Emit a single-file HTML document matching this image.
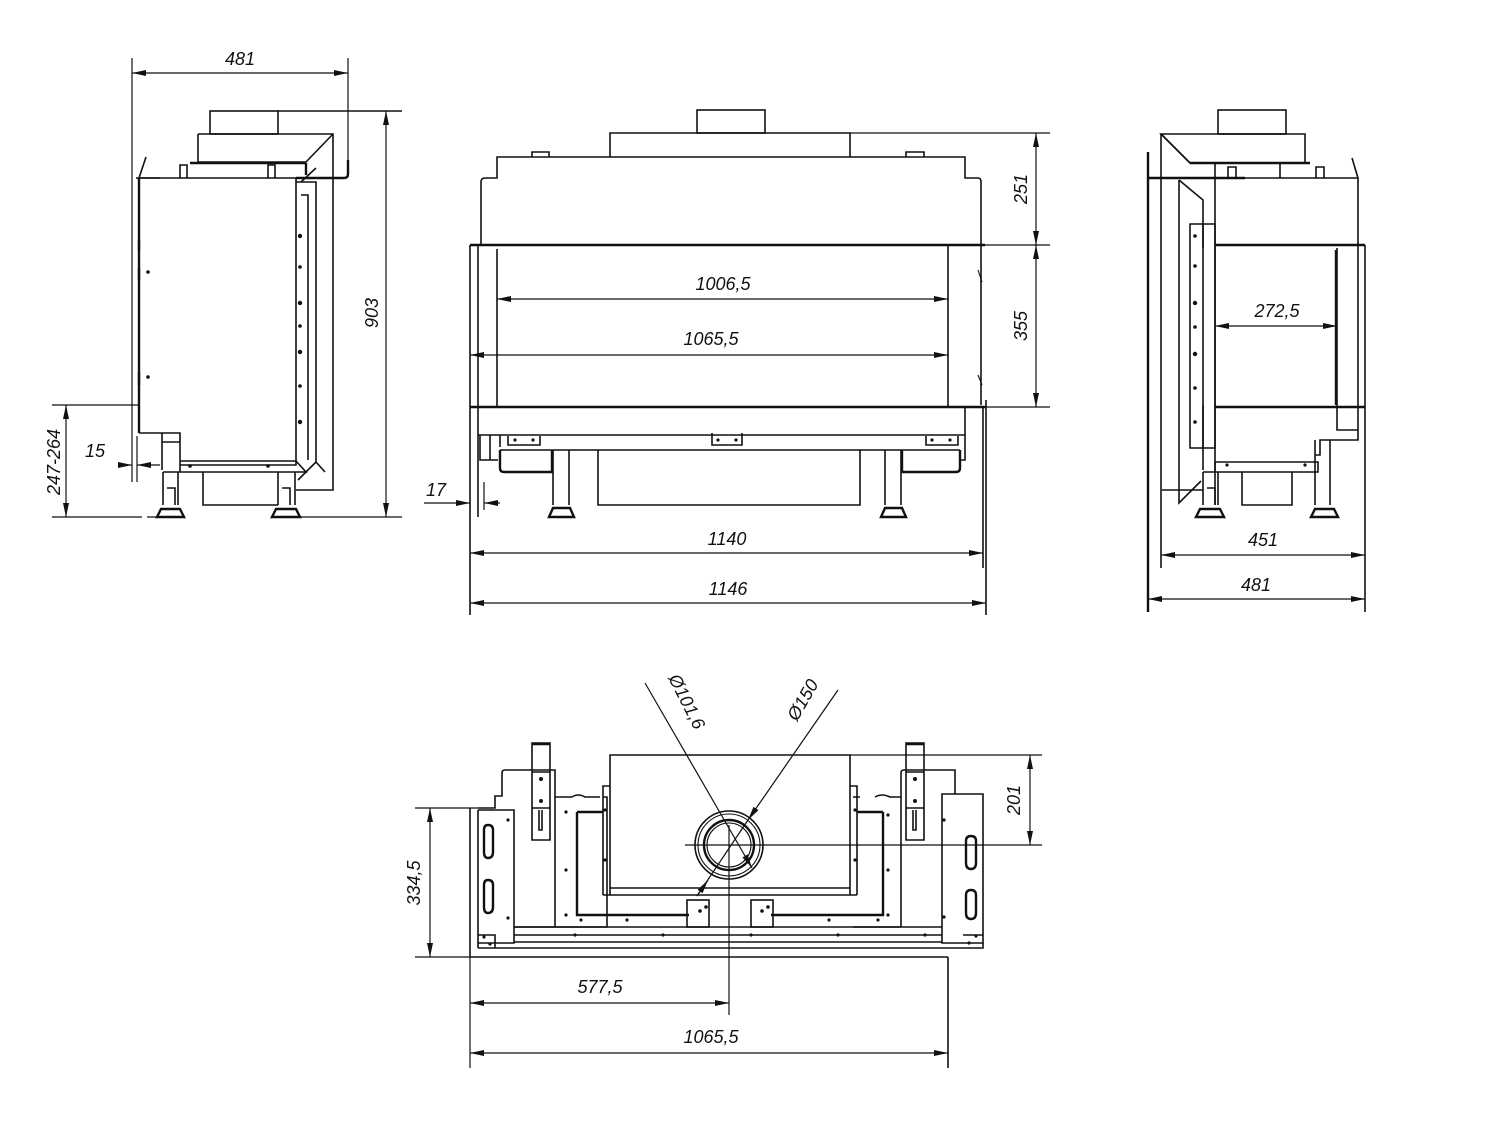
<!DOCTYPE html>
<html><head><meta charset="utf-8"><style>
html,body{margin:0;padding:0;background:#fff}
svg{display:block}
text{font-family:"Liberation Sans",sans-serif;font-style:italic;font-size:18px;fill:#111}
.l{stroke:#111;stroke-width:1.6;fill:none}
.b{stroke:#111;stroke-width:2.4;fill:none}
.t{stroke:#111;stroke-width:1.1;fill:none}
.d{stroke:#111;stroke-width:1.2;fill:none}
</style></head><body>
<svg width="1502" height="1136" viewBox="0 0 1502 1136" xmlns="http://www.w3.org/2000/svg">
<defs>
<marker id="a" viewBox="0 0 14 6" refX="14" refY="3" markerWidth="14" markerHeight="6" orient="auto-start-reverse" markerUnits="userSpaceOnUse"><path d="M0,0 L14,3 L0,6 z" fill="#111"/></marker>
</defs>

<!-- ============ LEFT SIDE VIEW ============ -->
<g>
<line class="d" x1="132" y1="58" x2="132" y2="482"/>
<line class="d" x1="348" y1="58" x2="348" y2="175"/>
<line class="d" x1="132" y1="73" x2="348" y2="73" marker-start="url(#a)" marker-end="url(#a)"/>
<text x="240" y="65" text-anchor="middle">481</text>
<rect class="l" x="210" y="111" width="68" height="23"/>
<line class="l" x1="278" y1="111" x2="402" y2="111"/>
<path class="l" d="M198,134 H333 V490 H296"/>
<path class="l" d="M198,134 V162 H306 L333,134"/>
<line class="b" x1="190" y1="163" x2="306" y2="163"/>
<path class="b" d="M306,163 V175 M348,160 V174 Q348,178 344,178 H296"/>
<path class="l" d="M139,178 H296 V465 H180"/>
<line class="b" x1="139" y1="178" x2="139" y2="433"/>
<path class="l" d="M139,178 L146,157"/>
<path class="l" d="M136,178 H160 M180,178 V165 H187 V178 M268,178 V165 H275 V178"/>
<path class="l" d="M139,433 H180 V472 M162,433 V470 M162,442 H180"/>
<path class="l" d="M296,182 H316 V462 L298,480 M301,182 L316,168 M301,195 H308 V460"/>
<path class="l" d="M180,461 H296 L306,472 H163 M316,462 L325,472"/>
<g fill="#111"><circle cx="148" cy="272" r="1.8"/><circle cx="148" cy="377" r="1.8"/><circle cx="300" cy="236" r="2.2"/><circle cx="300" cy="267" r="1.8"/><circle cx="300" cy="303" r="2.2"/><circle cx="300" cy="326" r="1.8"/><circle cx="300" cy="352" r="2.2"/><circle cx="300" cy="386" r="1.8"/><circle cx="300" cy="422" r="2.2"/><circle cx="190" cy="466" r="1.8"/><circle cx="268" cy="466" r="1.8"/></g>
<path class="b" d="M139,240 V250 M139,268 V280 M139,372 V385"/>
<path class="l" d="M163,472 V505 M178,472 V505 M167,488 H175 V505 M278,472 V505 M295,472 V505 M282,488 H290 V505"/>
<path class="l" d="M203,472 V505 H278"/>
<path class="b" d="M161,509 H180 L184,517 H157 z M276,509 H296 L300,517 H272 z"/>
<line class="d" x1="147" y1="517" x2="185" y2="517"/>
<line class="d" x1="272" y1="517" x2="402" y2="517"/>
<line class="d" x1="52" y1="517" x2="142" y2="517"/>
<line class="d" x1="52" y1="405" x2="139" y2="405"/>
<line class="d" x1="66" y1="405" x2="66" y2="517" marker-start="url(#a)" marker-end="url(#a)"/>
<text transform="translate(60,462) rotate(-90)" text-anchor="middle">247-264</text>
<line class="d" x1="386" y1="111" x2="386" y2="517" marker-start="url(#a)" marker-end="url(#a)"/>
<text transform="translate(378,313) rotate(-90)" text-anchor="middle">903</text>
<line class="d" x1="137" y1="436" x2="137" y2="482"/>
<line class="d" x1="118" y1="465" x2="132" y2="465" marker-end="url(#a)"/>
<line class="d" x1="160" y1="465" x2="137" y2="465" marker-end="url(#a)"/>
<text x="95" y="457" text-anchor="middle">15</text>
</g>

<!-- ============ FRONT VIEW ============ -->
<g>
<rect class="l" x="697" y="110" width="68" height="23"/>
<path class="l" d="M610,157 V133 H850 V157"/>
<line class="d" x1="850" y1="133" x2="1050" y2="133"/>
<path class="l" d="M481,245 V182 Q481,178 485,178 H497 V157 H965 V178 H978 Q981,178 981,182 V245"/>
<path class="l" d="M532,157 V152 H549 V157 M906,157 V152 H924 V157"/>
<line class="b" x1="470" y1="245" x2="985" y2="245"/>
<line class="d" x1="985" y1="245" x2="1050" y2="245"/>
<line class="b" x1="470" y1="407" x2="985" y2="407"/>
<line class="d" x1="985" y1="407" x2="1050" y2="407"/>
<path class="l" d="M470,245 V615 M478,245 V517 M497,249 V407 M948,245 V407"/>
<path class="l" d="M981,245 V405 M983,407 V568 M986,400 V615"/>
<path class="t" d="M978,270 L982,282 M978,375 L982,385"/>
<line class="d" x1="497" y1="299" x2="948" y2="299" marker-start="url(#a)" marker-end="url(#a)"/>
<text x="723" y="290" text-anchor="middle">1006,5</text>
<line class="d" x1="470" y1="355" x2="948" y2="355" marker-start="url(#a)" marker-end="url(#a)"/>
<text x="711" y="345" text-anchor="middle">1065,5</text>
<line class="d" x1="1036" y1="133" x2="1036" y2="245" marker-start="url(#a)" marker-end="url(#a)"/>
<text transform="translate(1027,189) rotate(-90)" text-anchor="middle">251</text>
<line class="d" x1="1036" y1="245" x2="1036" y2="407" marker-start="url(#a)" marker-end="url(#a)"/>
<text transform="translate(1027,326) rotate(-90)" text-anchor="middle">355</text>
<path class="l" d="M478,435 H965 M500,450 H960 M965,407 V460 H960"/>
<path class="l" d="M480,435 V460 H498 M490,435 V460"/>
<path class="l" d="M500,435 V447 M508,436 V445 H540 V436 M712,433 V445 H742 V433 M926,436 V445 H958 V436"/>
<path class="b" d="M500,450 V468 Q500,472 504,472 H552 V450 M960,450 V468 Q960,472 956,472 H902 V450"/>
<path class="l" d="M553,450 V505 M569,450 V505 M885,450 V505 M901,450 V505"/>
<path class="l" d="M598,450 V505 H860 V450"/>
<path class="b" d="M553,508 H570 L574,517 H549 z M885,508 H902 L906,517 H881 z"/>
<g fill="#111"><circle cx="515" cy="440" r="1.6"/><circle cx="533" cy="440" r="1.6"/><circle cx="718" cy="440" r="1.6"/><circle cx="736" cy="440" r="1.6"/><circle cx="932" cy="440" r="1.6"/><circle cx="950" cy="440" r="1.6"/></g>
<line class="d" x1="484" y1="482" x2="484" y2="510"/>
<line class="d" x1="424" y1="503" x2="470" y2="503" marker-end="url(#a)"/>
<line class="d" x1="500" y1="503" x2="484" y2="503" marker-end="url(#a)"/>
<text x="436" y="496" text-anchor="middle">17</text>
<line class="d" x1="470" y1="553" x2="983" y2="553" marker-start="url(#a)" marker-end="url(#a)"/>
<text x="727" y="545" text-anchor="middle">1140</text>
<line class="d" x1="470" y1="603" x2="986" y2="603" marker-start="url(#a)" marker-end="url(#a)"/>
<text x="728" y="595" text-anchor="middle">1146</text>
</g>

<!-- ============ RIGHT SIDE VIEW ============ -->
<g>
<rect class="l" x="1218" y="110" width="68" height="24"/>
<path class="l" d="M1161,134 H1305 V163 H1190 z"/>
<path class="l" d="M1161,134 L1190,163"/>
<line class="b" x1="1190" y1="163" x2="1310" y2="163"/>
<line class="b" x1="1149" y1="178" x2="1245" y2="178"/>
<line class="l" x1="1245" y1="178" x2="1358" y2="178"/>
<path class="b" d="M1148,152 V612"/>
<line class="l" x1="1161" y1="134" x2="1161" y2="568"/>
<path class="l" d="M1179,180 V503 L1201,481 M1179,180 L1203,200 V470"/>
<path class="l" d="M1215,178 V505 M1358,178 V245 M1352,158 L1358,178"/>
<path class="l" d="M1228,178 V167 H1236 V178 M1316,178 V167 H1324 V178 M1215,163 V178 M1280,163 V178"/>
<path class="l" d="M1190,224 H1215 V448 H1190 z M1203,224 V248 M1203,405 V448"/>
<line class="b" x1="1215" y1="245" x2="1365" y2="245"/>
<line class="b" x1="1215" y1="407" x2="1365" y2="407"/>
<path class="l" d="M1337,248 V407 M1358,245 V407 M1365,245 V612"/>
<line class="b" x1="1336" y1="250" x2="1336" y2="405"/>
<path class="l" d="M1337,407 V430 H1358 V407 M1358,410 V440 H1320 V455 H1315 V472 M1330,440 V505 M1315,440 V505"/>
<path class="l" d="M1215,462 H1318 V472 H1203 M1215,462 V472"/>
<path class="l" d="M1162,490 H1203 M1242,472 V505 H1292 V472"/>
<path class="l" d="M1203,472 V505 M1218,472 V505 M1207,488 H1215 V505"/>
<path class="b" d="M1200,509 H1220 L1224,517 H1196 z M1315,509 H1334 L1338,517 H1311 z"/>
<g fill="#111"><circle cx="1195" cy="236" r="1.8"/><circle cx="1195" cy="266" r="1.8"/><circle cx="1195" cy="303" r="2.2"/><circle cx="1195" cy="327" r="1.8"/><circle cx="1195" cy="354" r="2.2"/><circle cx="1195" cy="388" r="1.8"/><circle cx="1195" cy="422" r="1.8"/><circle cx="1227" cy="465" r="1.6"/><circle cx="1305" cy="465" r="1.6"/></g>
<line class="d" x1="1215" y1="326" x2="1337" y2="326" marker-start="url(#a)" marker-end="url(#a)"/>
<text x="1277" y="317" text-anchor="middle">272,5</text>
<line class="d" x1="1161" y1="555" x2="1365" y2="555" marker-start="url(#a)" marker-end="url(#a)"/>
<text x="1263" y="546" text-anchor="middle">451</text>
<line class="d" x1="1148" y1="599" x2="1365" y2="599" marker-start="url(#a)" marker-end="url(#a)"/>
<text x="1256" y="591" text-anchor="middle">481</text>
</g>

<!-- ============ TOP / BOTTOM VIEW ============ -->
<g>
<path class="l" d="M610,895 V755 H850 V895"/>
<line class="d" x1="850" y1="755" x2="1042" y2="755"/>
<path class="l" d="M603,895 V786 H610 M857,895 V786 H850 M603,895 H857 M610,888 H850"/>
<circle class="l" cx="729" cy="845" r="34"/>
<circle class="t" cx="729" cy="845" r="31"/>
<circle class="b" cx="729" cy="845" r="25"/>
<circle class="t" cx="729" cy="845" r="22"/>
<line class="d" x1="685" y1="845" x2="1042" y2="845"/>
<line class="d" x1="729" y1="825" x2="729" y2="1015"/>
<line class="d" x1="645" y1="683" x2="752" y2="868" marker-end="url(#a)"/>
<line class="d" x1="838" y1="690" x2="748" y2="820" marker-end="url(#a)"/>
<line class="d" x1="748" y1="820" x2="697" y2="896"/>
<line class="d" x1="697" y1="896" x2="708" y2="880" marker-end="url(#a)"/>
<text transform="translate(668,678) rotate(63)">Ø101,6</text>
<text transform="translate(797,722) rotate(-60)">Ø150</text>
<path class="l" d="M470,808 V957 M478,810 V943 H514 V810 H478"/>
<path class="l" d="M478,808 H495 V796 H502 V773 Q502,770 505,770 H555 V927 M514,927 H607 V797 H603 M555,797 H572 Q578,793 585,797 H600"/>
<path class="l" d="M532,743 H550 V840 H532 z M532,772 H550 V808 H532"/>
<line class="b" x1="532" y1="744" x2="550" y2="744"/>
<path class="l" d="M539,810 V830 H542 V810"/>
<path class="b" d="M577,812 V915 H689 M577,812 H603"/>
<path class="b" d="M488,825 Q484,825 484,830 V852 Q484,858 488,858 Q493,858 493,852 V830 Q493,825 488,825 z M488,880 Q484,880 484,885 V907 Q484,913 488,913 Q493,913 493,907 V885 Q493,880 488,880 z"/>
<rect class="l" x="687" y="900" width="22" height="27"/>
<rect class="l" x="751" y="900" width="22" height="27"/>
<path class="l" d="M942,794 H983 V943 H942 z M901,927 V773 Q901,770 904,770 H955 V794 M853,927 H901 M853,797 H860 M875,797 Q882,793 890,797 H901"/>
<path class="l" d="M906,743 H924 V840 H906 z M906,772 H924 V808 H906"/>
<line class="b" x1="906" y1="744" x2="924" y2="744"/>
<path class="l" d="M913,810 V830 H916 V810"/>
<path class="b" d="M883,812 V915 H771 M883,812 H857"/>
<path class="b" d="M971,836 Q966,836 966,841 V863 Q966,869 971,869 Q976,869 976,863 V841 Q976,836 971,836 z M971,890 Q966,890 966,895 V913 Q966,919 971,919 Q976,919 976,913 V895 Q976,890 971,890 z"/>
<path class="l" d="M514,927 H942 M514,935 H942 M514,942 H942 M478,948 H983 V943 M470,957 H948 M478,943 V948"/>
<path class="l" d="M478,935 H495 V948 M963,935 H983"/>
<path class="l" d="M948,957 V1068"/>
<g fill="#111">
<circle cx="508" cy="820" r="1.6"/><circle cx="508" cy="918" r="1.6"/><circle cx="484" cy="937" r="1.6"/><circle cx="490" cy="944" r="1.6"/><circle cx="541" cy="779" r="2"/><circle cx="541" cy="801" r="2"/>
<circle cx="566" cy="812" r="1.6"/><circle cx="566" cy="870" r="1.6"/><circle cx="566" cy="915" r="1.6"/><circle cx="581" cy="920" r="1.6"/><circle cx="627" cy="920" r="1.6"/><circle cx="605" cy="810" r="1.6"/><circle cx="605" cy="860" r="1.6"/>
<circle cx="944" cy="820" r="1.6"/><circle cx="944" cy="917" r="1.6"/><circle cx="976" cy="936" r="1.6"/><circle cx="969" cy="943" r="1.6"/><circle cx="915" cy="779" r="2"/><circle cx="915" cy="801" r="2"/>
<circle cx="888" cy="815" r="1.6"/><circle cx="888" cy="870" r="1.6"/><circle cx="888" cy="915" r="1.6"/><circle cx="878" cy="920" r="1.6"/><circle cx="829" cy="920" r="1.6"/><circle cx="855" cy="810" r="1.6"/><circle cx="855" cy="860" r="1.6"/>
<circle cx="700" cy="911" r="1.8"/><circle cx="706" cy="907" r="1.8"/><circle cx="762" cy="911" r="1.8"/><circle cx="768" cy="907" r="1.8"/>
<circle cx="575" cy="935" r="1.6"/><circle cx="663" cy="935" r="1.6"/><circle cx="751" cy="935" r="1.6"/><circle cx="838" cy="935" r="1.6"/><circle cx="925" cy="935" r="1.6"/>
</g>
<line class="d" x1="415" y1="808" x2="478" y2="808"/>
<line class="d" x1="415" y1="957" x2="470" y2="957"/>
<line class="d" x1="430" y1="808" x2="430" y2="957" marker-start="url(#a)" marker-end="url(#a)"/>
<text transform="translate(420,883) rotate(-90)" text-anchor="middle">334,5</text>
<line class="d" x1="1030" y1="755" x2="1030" y2="845" marker-start="url(#a)" marker-end="url(#a)"/>
<text transform="translate(1020,800) rotate(-90)" text-anchor="middle">201</text>
<line class="d" x1="470" y1="957" x2="470" y2="1068"/>
<line class="d" x1="470" y1="1003" x2="729" y2="1003" marker-start="url(#a)" marker-end="url(#a)"/>
<text x="600" y="993" text-anchor="middle">577,5</text>
<line class="d" x1="470" y1="1053" x2="948" y2="1053" marker-start="url(#a)" marker-end="url(#a)"/>
<text x="711" y="1043" text-anchor="middle">1065,5</text>
</g>
</svg>
</body></html>
